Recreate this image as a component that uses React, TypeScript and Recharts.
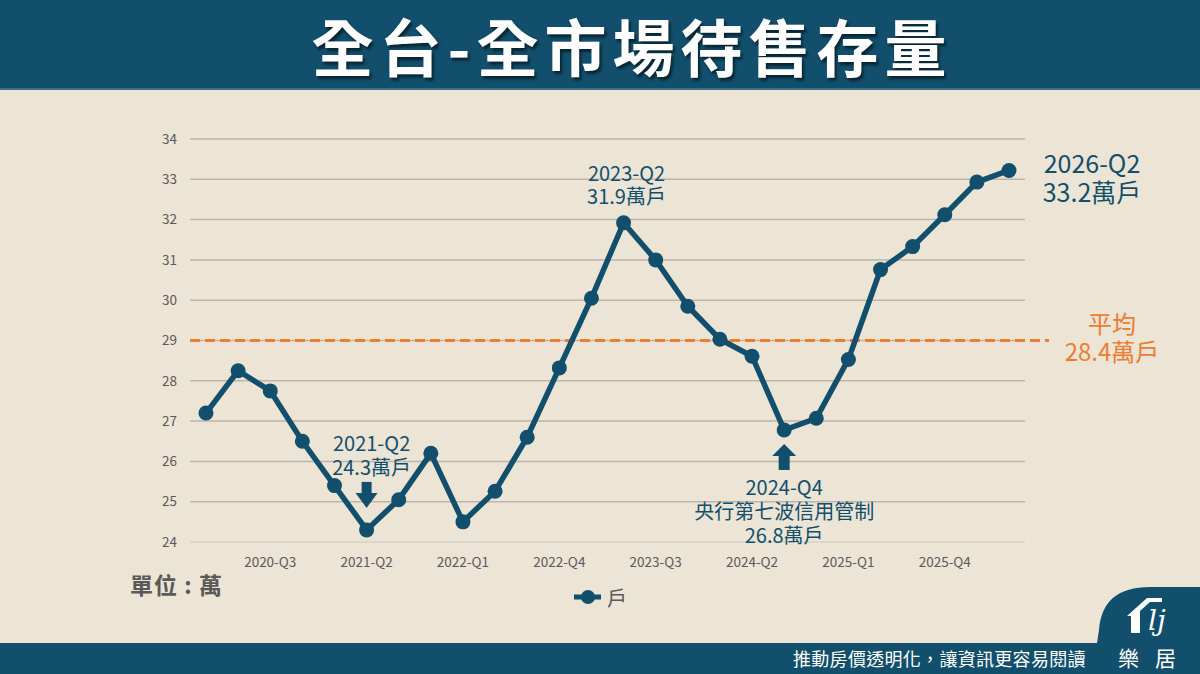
import React from "react";
import { LineChart, Line, XAxis, YAxis, CartesianGrid, ReferenceLine } from "recharts";

const BLUE = "#124f6c";
const ORANGE = "#ee7d31";
const GRAY = "#595959";
const BG = "#ece4d5";
const FONT = '"Noto Sans CJK TC", "Noto Sans", sans-serif';

const quarters = [
  "2020-Q1", "2020-Q2", "2020-Q3", "2020-Q4",
  "2021-Q1", "2021-Q2", "2021-Q3", "2021-Q4",
  "2022-Q1", "2022-Q2", "2022-Q3", "2022-Q4",
  "2023-Q1", "2023-Q2", "2023-Q3", "2023-Q4",
  "2024-Q1", "2024-Q2", "2024-Q3", "2024-Q4",
  "2025-Q1", "2025-Q2", "2025-Q3", "2025-Q4",
  "2026-Q1", "2026-Q2",
];

const inventory = [
  27.2, 28.25, 27.75, 26.5, 25.4, 24.3, 25.05, 26.2, 24.5, 25.26,
  26.6, 28.32, 30.05, 31.92, 31.0, 29.85, 29.03, 28.61, 26.78, 27.07,
  28.53, 30.76, 31.33, 32.12, 32.93, 33.22,
];

const yTicks = [24, 25, 26, 27, 28, 29, 30, 31, 32, 33, 34];
const avgLine = 29;
const avgText = ["平均", "28.4萬戶"];

// text shown next to the highlighted points
const notes: Record<number, string[]> = {
  5: ["2021-Q2", "24.3萬戶"],
  13: ["2023-Q2", "31.9萬戶"],
  18: ["2024-Q4", "央行第七波信用管制", "26.8萬戶"],
  25: ["2026-Q2", "33.2萬戶"],
};

const data = quarters.map((q, i) => ({ q, value: inventory[i] }));

function Note({ index, cx, cy }: { index: number; cx: number; cy: number }) {
  const lines = notes[index];
  if (!lines) return null;
  const txt = (s: string, x: number, y: number, size = 20) => (
    <text key={s} x={x} y={y} textAnchor="middle" dominantBaseline="central" fill={BLUE} fontSize={size} fontFamily={FONT}>
      {s}
    </text>
  );
  if (index === 5) {
    return (
      <g>
        {txt(lines[0], cx + 5, cy - 87)}
        {txt(lines[1], cx + 5, cy - 63)}
        <rect x={cx - 5} y={cy - 48} width={10} height={16} fill={BLUE} />
        <polygon points={`${cx - 11},${cy - 37} ${cx + 11},${cy - 37} ${cx},${cy - 22}`} fill={BLUE} />
      </g>
    );
  }
  if (index === 13) {
    return (
      <g>
        {txt(lines[0], cx + 3, cy - 50)}
        {txt(lines[1], cx + 3, cy - 27)}
      </g>
    );
  }
  if (index === 18) {
    return (
      <g>
        <polygon points={`${cx},${cy + 14} ${cx + 12},${cy + 26} ${cx - 12},${cy + 26}`} fill={BLUE} />
        <rect x={cx - 5.5} y={cy + 25} width={11} height={15} fill={BLUE} />
        {txt(lines[0], cx, cy + 57)}
        {txt(lines[1], cx, cy + 81)}
        {txt(lines[2], cx, cy + 105)}
      </g>
    );
  }
  return (
    <g>
      {txt(lines[0], cx + 83, cy - 8, 25)}
      {txt(lines[1], cx + 83, cy + 21, 25)}
    </g>
  );
}

const renderDot = (p: any) => {
  const { cx, cy, index } = p;
  return (
    <g key={`dot-${index}`}>
      <circle cx={cx} cy={cy} r={7.5} fill={BLUE} />
      <Note index={index} cx={cx} cy={cy} />
    </g>
  );
};

const renderAvg = (p: any) => {
  const { x1, y1, x2, y2 } = p;
  return (
    <g>
      <line x1={x1} y1={y1} x2={x2 + 24} y2={y2} stroke={ORANGE} strokeWidth={3} strokeDasharray="10 5" />
      <text x={x2 + 87} y={y1 - 18} textAnchor="middle" dominantBaseline="central" fill={ORANGE} fontSize={24} fontFamily={FONT}>
        {avgText[0]}
      </text>
      <text x={x2 + 87} y={y1 + 10} textAnchor="middle" dominantBaseline="central" fill={ORANGE} fontSize={24} fontFamily={FONT}>
        {avgText[1]}
      </text>
    </g>
  );
};

export default function App() {
  return (
    <div style={{ position: "absolute", left: 0, top: 0, width: 1200, height: 674, background: BG, fontFamily: FONT, overflow: "hidden" }}>
      <div
        style={{
          position: "absolute", left: 0, top: 0, width: 1200, height: 90, background: BLUE,
          borderBottom: "2px solid #3a718b", color: "#fff", fontSize: 62, fontWeight: 700,
          lineHeight: "90px", textAlign: "center", letterSpacing: 6, textShadow: "2px 3px 3px rgba(0,0,0,0.55)",
          boxSizing: "border-box", paddingLeft: 64,
        }}
      >
        全台-全市場待售存量
      </div>

      <div style={{ position: "absolute", left: 0, top: 0 }}>
        <LineChart width={1200} height={674} data={data} margin={{ top: 139, right: 175, bottom: 102, left: 150 }}>
          <CartesianGrid vertical={false} stroke="#bdb5ad" strokeWidth={1.5} />
          <XAxis
            dataKey="q"
            interval={0}
            height={30}
            padding={{ left: 16, right: 16 }}
            tickLine={false}
            axisLine={{ stroke: "#dcd6cc", strokeWidth: 2 }}
            tickMargin={9}
            tick={{ fill: GRAY, fontSize: 13.5, fontFamily: FONT }}
            tickFormatter={(v: string, i: number) => (i % 3 === 2 ? v : "")}
          />
          <YAxis
            type="number"
            domain={[24, 34]}
            ticks={yTicks}
            width={40}
            tickLine={false}
            axisLine={false}
            tickMargin={7}
            tick={{ fill: GRAY, fontSize: 13.5, fontFamily: FONT }}
          />
          <ReferenceLine y={avgLine} shape={renderAvg} />
          <Line
            type="linear"
            dataKey="value"
            stroke={BLUE}
            strokeWidth={5.5}
            dot={renderDot}
            activeDot={false}
            isAnimationActive={false}
          />
        </LineChart>
      </div>

      <div style={{ position: "absolute", left: 130, top: 567, fontSize: 23, fontWeight: 700, color: GRAY, whiteSpace: "pre", letterSpacing: 1 }}>單位 : 萬</div>

      <div style={{ position: "absolute", left: 574, top: 584, display: "flex", alignItems: "center", height: 26 }}>
        <svg width={28} height={26}>
          <line x1={0} y1={13} x2={27} y2={13} stroke={BLUE} strokeWidth={5} />
          <circle cx={14} cy={13} r={7} fill={BLUE} />
        </svg>
        <span style={{ fontSize: 20, color: GRAY, marginLeft: 5 }}>戶</span>
      </div>

      <div style={{ position: "absolute", left: 0, top: 643, width: 1200, height: 31, background: BLUE }} />
      <div style={{ position: "absolute", left: 793, top: 643, lineHeight: "31px", fontSize: 18, color: "#fff", letterSpacing: 0.3 }}>
        推動房價透明化，讓資訊更容易閱讀
      </div>

      <svg style={{ position: "absolute", left: 0, top: 0 }} width={1200} height={674}>
        <path d="M1097 643 L1099 630 Q1102 587 1150 587 H1200 V674 H1097 Z" fill={BLUE} />
        <polygon points="1127,616 1147,598 1162,598 1162,602 1150,602 1140,611 1140,633 1131,633 1131,616" fill="#fff" />
        <text x={1148} y={630} fill="#fff" fontSize={28} fontStyle="italic" fontFamily="DejaVu Serif">lj</text>
        <text x={1155} y={657} textAnchor="middle" dominantBaseline="central" fill="#fff" fontSize={21} letterSpacing={16} fontFamily={FONT}>樂居</text>
      </svg>
    </div>
  );
}
